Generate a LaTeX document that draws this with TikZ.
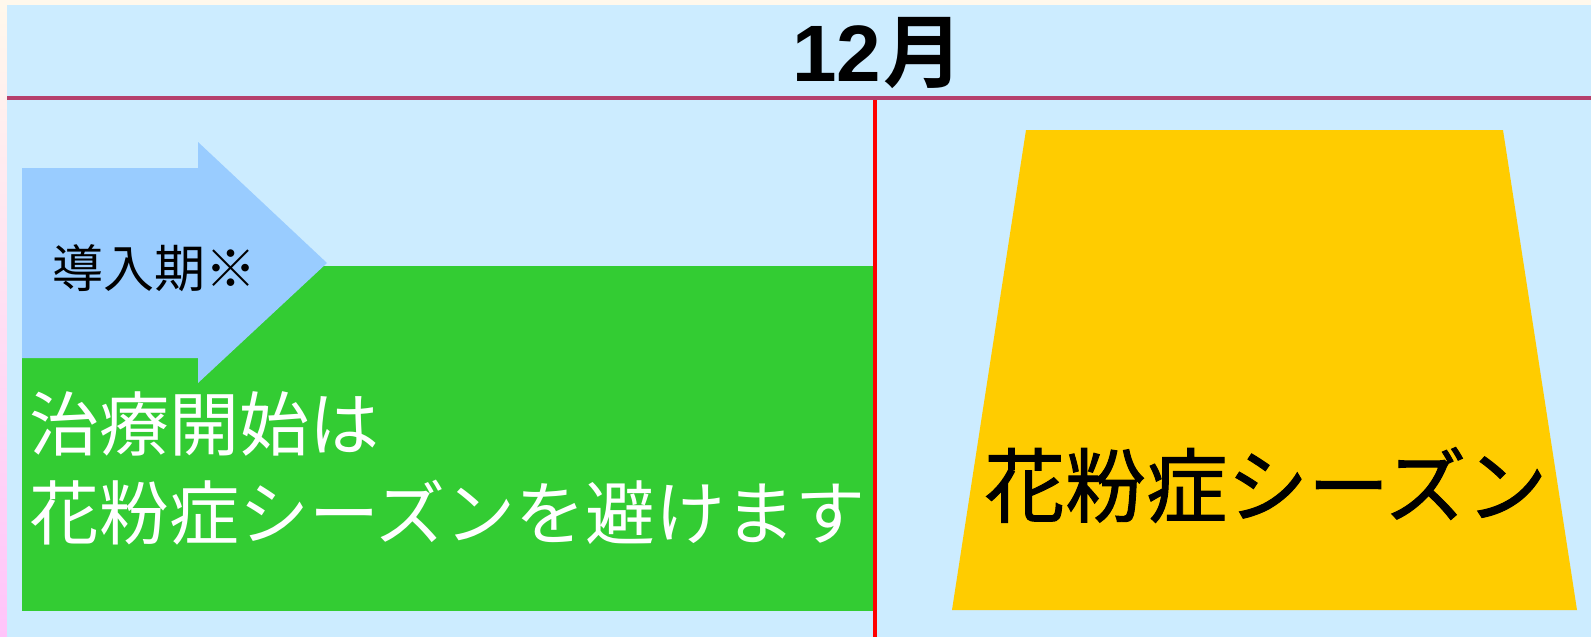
\documentclass[tikz,border=0pt]{standalone}
\usepackage{fontspec}
\newfontfamily\jp{Noto Sans CJK JP}
\newfontfamily\jpheavy[FakeBold=1.2]{Noto Sans CJK JP}
\newfontfamily\jpb{Noto Sans CJK JP Bold}
\newfontfamily\arb{Liberation Sans Bold}
\definecolor{cream}{HTML}{FFF8EC}
\definecolor{pinkish}{HTML}{FFC4FA}
\definecolor{skyblue}{HTML}{CCECFF}
\definecolor{arrowblue}{HTML}{99CCFF}
\definecolor{grassgreen}{HTML}{33CC33}
\definecolor{gold}{HTML}{FFCC00}
\definecolor{berry}{HTML}{B5406C}
\tikzset{
  lbl/.style={inner sep=0pt, anchor=west},
}
\begin{document}
\begin{tikzpicture}[x=1pt,y=-1pt]
\useasboundingbox (0,0) rectangle (1591,637);
% background
\fill[cream] (0,0) rectangle (1591,637);
\shade[top color=cream, bottom color=pinkish] (0,5) rectangle (7,637);
\fill[skyblue] (7,5) rectangle (1591,637);
% header divider and month divider
\draw[berry, line width=4pt] (7,98) -- (1591,98);
\draw[red, line width=4pt] (875,100) -- (875,637);
% month label
\node[inner sep=0pt] (month) at (878,53) {\fontsize{80}{80}\selectfont\arb 12\kern2pt\jpb 月};
% green period
\fill[grassgreen] (22,266) rectangle (873,611);
\node[lbl, text=white] (t1) at (29,424) {\fontsize{70}{70}\selectfont\jp 治療開始は};
\node[lbl, text=white] (t2) at (29,513) {\fontsize{70}{70}\selectfont\jp 花粉症シーズンを避けます};
% arrow
\fill[arrowblue] (22,168) -- (198,168) -- (198,142) -- (327,263) -- (198,383) -- (198,358) -- (22,358) -- cycle;
\node[lbl] (intro) at (52,268) {\fontsize{51}{51}\selectfont\jp 導入期※};
% pollen season trapezoid
\fill[gold] (1026,130) -- (1503,130) -- (1577,610) -- (952,610) -- cycle;
\node[lbl] (season) at (984,485) {\fontsize{81}{81}\selectfont\jpheavy 花粉症シーズン};
\end{tikzpicture}
\end{document}
